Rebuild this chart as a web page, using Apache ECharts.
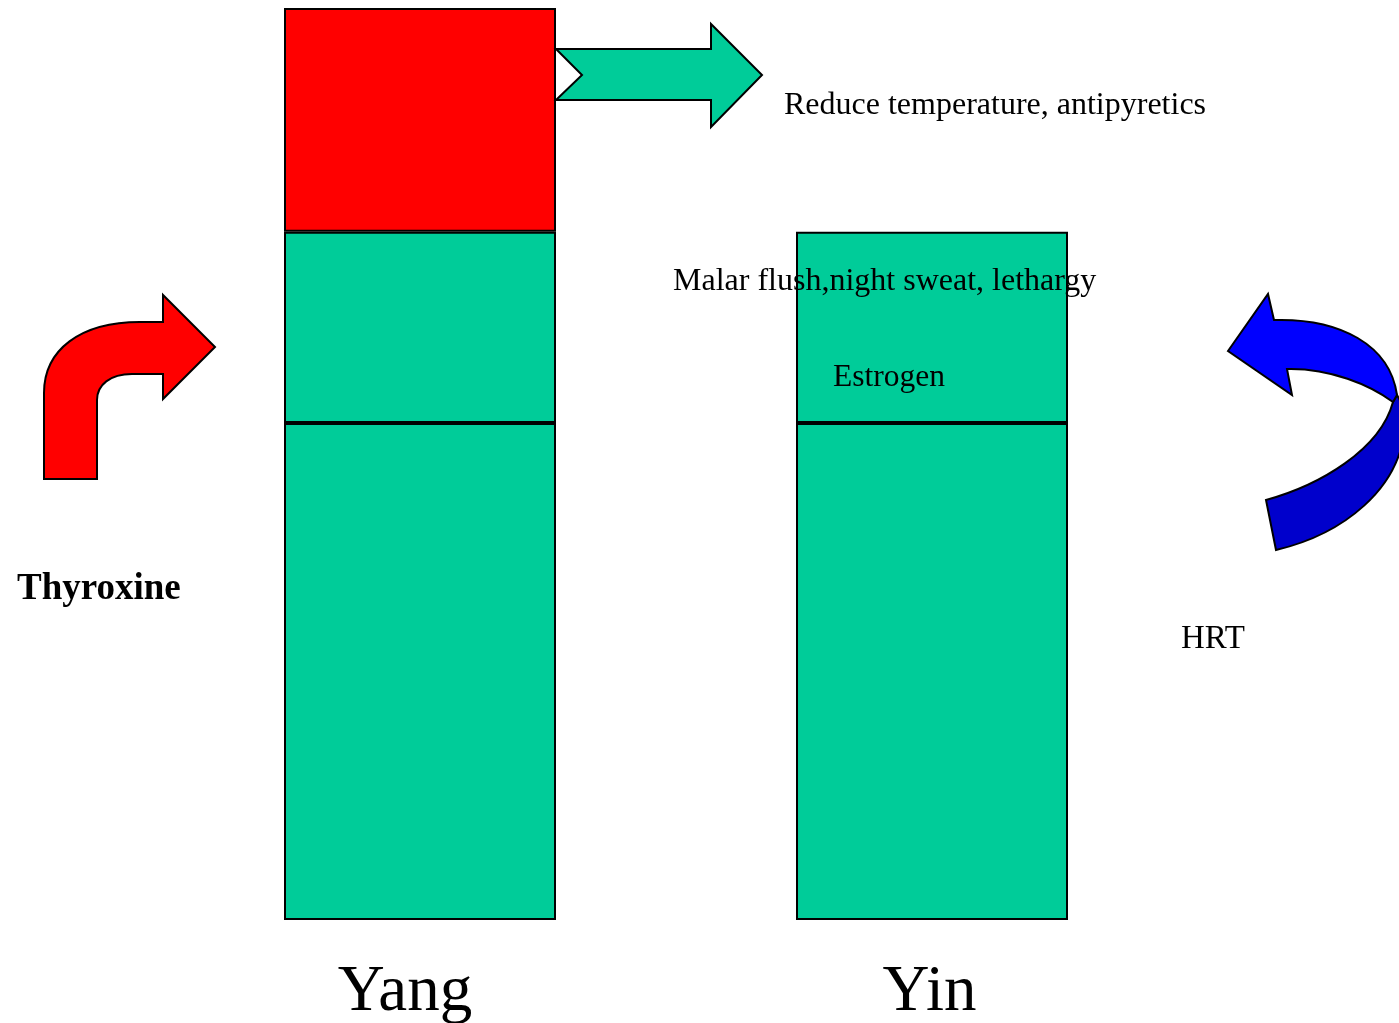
<!DOCTYPE html>
<html><head><meta charset="utf-8">
<script src="https://cdn.jsdelivr.net/npm/echarts@6/dist/echarts.min.js"></script>
<style>html,body{margin:0;padding:0;background:#fff}#c{width:1399px;height:1023px}</style>
</head><body><div id="c"></div>
<script>
const categories = ['Yang', 'Yin'];
const baseLevel = [2.6, 2.6];
const middleLevel = [1.0, 1.0];
const excessLevel = [1.17, null];
const annotations = [
  'Reduce temperature, antipyretics',
  'Malar flush,night sweat, lethargy',
  'Estrogen',
  'HRT',
  'Thyroxine'
];
const FONT = 'Liberation Serif';
const chart = echarts.init(document.getElementById('c'));
const itemStyle = (c) => ({color: c, borderColor: '#000', borderWidth: 2});
const arrows = [
  {d: 'M556,49 L711,49 L711,24 L762,75 L711,127 L711,100 L556,100 L582,75 Z', fill: '#00CC99'},
  {d: 'M44,479 L44,393 C44,350 80,322 140,322 L163,322 L163,295 L215,347 L163,399 L163,374 L132,374 C110,374 97,385 97,400 L97,479 Z', fill: '#FF0000'},
  {d: 'M1393,402 C1380,450 1320,485 1266,500 L1276,550 C1340,535 1404,490 1405,420 C1405,410 1400,400 1397,395 Z', fill: '#0000CC'},
  {d: 'M1228,351 L1268,294 L1274,320 C1340,318 1390,345 1397,395 L1393,402 C1370,385 1330,368 1287,369 L1292,395 Z', fill: '#0000FF'}
];
chart.setOption({
  backgroundColor: '#ffffff',
  animation: false,
  grid: {left: 164, right: 211, top: 8, bottom: 103, outerBoundsMode: 'none', containLabel: false},
  xAxis: {
    type: 'category',
    data: [
      {value: categories[0], textStyle: {padding: [0, 30, 0, 0]}},
      {value: categories[1], textStyle: {padding: [0, 5, 0, 0]}}
    ],
    axisLine: {show: false}, axisTick: {show: false},
    axisLabel: {fontFamily: FONT, fontSize: 65, color: '#000', margin: 40}
  },
  yAxis: {type: 'value', min: 0, max: 4.77, show: false, splitLine: {show: false}},
  series: [
    {type: 'bar', stack: 's', barWidth: 272, data: baseLevel, itemStyle: itemStyle('#00CC99')},
    {type: 'bar', stack: 's', barWidth: 272, data: middleLevel, itemStyle: itemStyle('#00CC99')},
    {type: 'bar', stack: 's', barWidth: 272, data: excessLevel, itemStyle: itemStyle('#FF0000')},
    {type: 'custom', coordinateSystem: 'none', z: 50, silent: true, data: [0],
     renderItem: function () {
       return {type: 'group', children: arrows.map(a => ({
         type: 'path', shape: {pathData: a.d},
         style: {fill: a.fill, stroke: '#000', lineWidth: 2}
       }))};
     }}
  ],
  graphic: [
    {type: 'text', z: 110, left: 784, top: 90, style: {text: annotations[0], font: '32px "Liberation Serif"', fill: '#000'}},
    {type: 'text', z: 110, left: 673, top: 266, style: {text: annotations[1], font: '32px "Liberation Serif"', fill: '#000'}},
    {type: 'text', z: 110, left: 833, top: 362, style: {text: annotations[2], font: '31.5px "Liberation Serif"', fill: '#000'}},
    {type: 'text', z: 110, left: 1181, top: 623, style: {text: annotations[3], font: '33px "Liberation Serif"', fill: '#000'}},
    {type: 'text', z: 110, left: 17, top: 571, style: {text: annotations[4], font: 'bold 37px "Liberation Serif"', fill: '#000'}}
  ]
});
</script></body></html>
